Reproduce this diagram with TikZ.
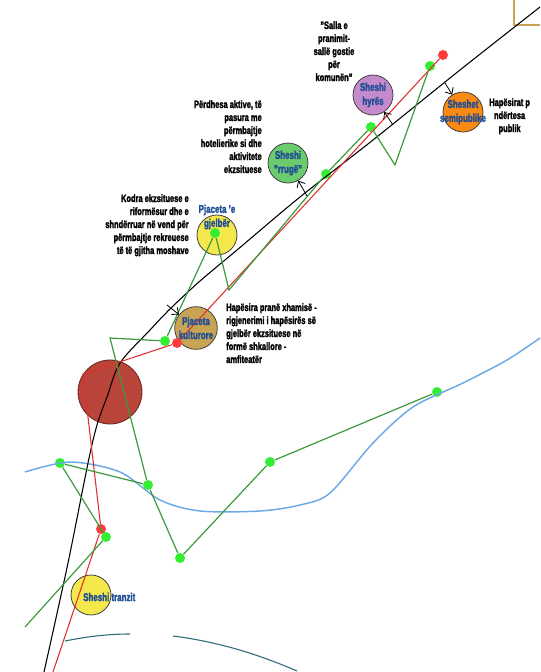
\documentclass[tikz,border=0pt]{standalone}
\usepackage{fontspec}
\setmainfont{Liberation Sans}[FakeStretch=0.7, BoldFeatures={FakeBold=2}]
\usetikzlibrary{arrows.meta}
\definecolor{linegreen}{HTML}{3C9A3C}
\definecolor{dotgreen}{HTML}{33EE33}
\definecolor{linered}{HTML}{E0302C}
\definecolor{dotred}{HTML}{FF3B3B}
\definecolor{wave}{HTML}{6AAAE6}
\definecolor{textblue}{HTML}{1F4E96}
\definecolor{purplefill}{HTML}{C58ACB}
\definecolor{orangefill}{HTML}{FB8A12}
\definecolor{greenfill}{HTML}{6CCB6C}
\definecolor{yellowfill}{HTML}{F5E84C}
\definecolor{tanfill}{HTML}{C9A455}
\definecolor{bigred}{HTML}{B9443A}
\definecolor{darkteal}{HTML}{2E6A78}
\definecolor{goldline}{HTML}{C8A35A}
\begin{document}
\begin{tikzpicture}[x=0.75pt, y=-0.75pt, >={Straight Barb[length=4pt, width=7pt]},
  spot/.style={circle, draw=black!75, line width=0.6pt, minimum size=30pt, inner sep=0},
  dotg/.style={circle, fill=dotgreen, minimum size=7.5pt, inner sep=0},
  dotr/.style={circle, fill=dotred, minimum size=7.5pt, inner sep=0},
  note/.style={font=\fontsize{8}{9.75}\selectfont\bfseries, inner sep=0},
  spottext/.style={font=\fontsize{8.5}{10.5}\selectfont\bfseries, text=textblue, align=center, inner sep=0}]
\useasboundingbox (0,0) rectangle (540,672);
\node[spot, fill=purplefill] (hyres) at (373,95) {};
\node[spot, fill=orangefill] (semi) at (463,112) {};
\node[spot, fill=greenfill] (rruge) at (288,163) {};
\node[spot, fill=yellowfill] (gjelber) at (217,235) {};
\node[spot, fill=tanfill, minimum size=32pt] (kult) at (196,328) {};
\node[spot, fill=yellowfill] (tranzit) at (91,595) {};
\node[spot, fill=bigred, draw=bigred!55!black, minimum size=48pt] (bigcirc) at (110,392) {};
\node[dotg] (g1) at (430,66) {};
\node[dotg] (g2) at (371,127) {};
\node[dotg] (g3) at (326,174) {};
\node[dotg] (g4) at (215,233) {};
\node[dotg] (g5) at (165,341) {};
\node[dotg] (g6) at (60,463) {};
\node[dotg] (g7) at (148,485) {};
\node[dotg] (g8) at (106,537) {};
\node[dotg] (g9) at (180,558) {};
\node[dotg] (g10) at (270,462) {};
\node[dotg] (g11) at (437,392) {};
\node[dotr] (r1) at (443,55) {};
\node[dotr] (r2) at (177,343) {};
\node[dotr] (r3) at (101,529) {};
\coordinate (v1) at (395,165);
\coordinate (v2) at (229,290);
\coordinate (v3) at (110,338);
\coordinate (v4) at (83,374);
\coordinate (gend) at (25,627);
\coordinate (rend) at (53,672);
\coordinate (ak) at (167,305);
\coordinate (ar) at (307,196);
\coordinate (ah) at (393,125);
\coordinate (as) at (445,83);
\draw[wave, line width=1.1pt] plot[smooth] coordinates {(25,472) (70,462) (120,472) (160,500) (200,511) (260,511) (300,505) (330,493) (373,443) (413,407) (463,383) (507,360) (540,338)};
\draw[darkteal, line width=0.8pt] (65,641) .. controls (90,636) and (110,634) .. (130,634);
\draw[darkteal, line width=0.8pt] (173,636) .. controls (220,642) and (260,655) .. (297,671);
\draw[goldline, line width=1pt] (514,0) -- (514,25) -- (540,25);
\draw[line width=0.8pt] plot[smooth] coordinates {(44,672) (68,563) (88,463) (97,425) (107,397) (120,363) (150,330) (170,309) (200,281) (237,250) (300,197) (373,140) (460,70) (540,7)};
\draw[linered, line width=0.8pt] (r1) -- (r2) -- (v4) -- (r3) -- (rend);
\draw[linegreen, line width=0.9pt] (g11) -- (g10) -- (g9) -- (g7) -- (v3) -- (g5) -- (g4) -- (v2) -- (g3) -- (g2) -- (v1) -- (g1);
\draw[linegreen, line width=0.9pt] (g7) -- (g6) -- (g8) -- (gend);
\draw[->, line width=0.6pt] (ak) -- (kult);
\draw[->, line width=0.6pt] (ar) -- (rruge);
\draw[->, line width=0.6pt] (ah) -- (hyres);
\draw[->, line width=0.6pt] (as) -- (semi);
\node[spottext] (hyrestxt) at (hyres) {Sheshi\\hyrës};
\node[spottext] (semitxt) at (semi) {Sheshet\\semipublike};
\node[spottext] (rrugetxt) at (rruge) {Sheshi\\"rrugë"};
\node[spottext] (gjelbertxt) at (217,217) {Pjaceta 'e\\gjelbër};
\node[spottext] (kulttxt) at (kult) {Pjaceta\\kulturore};
\node[spottext, anchor=west] (tranzittxt) at (83,597) {Sheshi tranzit};
\node[note, align=center, anchor=north] (salla) at (334,21) {"Salla e\\pranimit-\\sallë gostie\\për\\komunën"};
\node[note, align=right, anchor=north east] (perdhesa) at (262,100) {Përdhesa aktive, të\\pasura me\\përmbajtje\\hotelierike si dhe\\aktivitete\\ekzsituese};
\node[note, align=right, anchor=north east] (kodra) at (189,194) {Kodra ekzsituese e\\riformësur dhe e\\shndërruar në vend për\\përmbajtje rekreuese\\të të gjitha moshave};
\node[note, align=left, anchor=north west] (xhami) at (226,303) {Hapësira pranë xhamisë -\\rigjenerimi i hapësirës së\\gjelbër ekzsituese në\\formë shkallore -\\amfiteatër};
\node[note, align=center, anchor=north west] (publike) at (489,98) {Hapësirat p\\ndërtesa\\publik};
\end{tikzpicture}
\end{document}
